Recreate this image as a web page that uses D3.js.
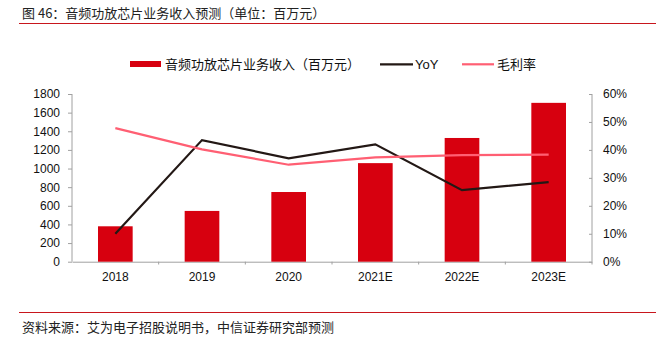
<!DOCTYPE html>
<html>
<head>
<meta charset="utf-8">
<script src="https://cdn.jsdelivr.net/npm/d3@7"></script>
<style>
  body { margin: 0; background: #fff; }
  svg { display: block; }
  text { font-family: "Liberation Sans", Arial, sans-serif; }
  .cn { font-family: "Noto Sans CJK SC", "Liberation Sans", sans-serif; }
</style>
</head>
<body>
<svg id="vis"></svg>
<script>
// chart values
const years = ["2018", "2019", "2020", "2021E", "2022E", "2023E"];
const revenue = [380, 545, 748, 1058, 1328, 1705];
const yoy = [0.10, 0.435, 0.37, 0.42, 0.256, 0.285];
const margin = [0.478, 0.402, 0.347, 0.373, 0.381, 0.383];
const leftTicks = [0, 200, 400, 600, 800, 1000, 1200, 1400, 1600, 1800];
const rightTicks = [0, 0.1, 0.2, 0.3, 0.4, 0.5, 0.6];

const titleText = "图 46：音频功放芯片业务收入预测（单位：百万元）";
const sourceText = "资料来源：艾为电子招股说明书，中信证券研究部预测";
const legendNames = ["音频功放芯片业务收入（百万元）", "YoY", "毛利率"];

function drawChart() {
  const width = 656, height = 346;
  const barColor = "#d7000f", yoyColor = "#231815", marginColor = "#ff5f73";

  const svg = d3.select("#vis")
    .attr("width", width)
    .attr("height", height);

  // title + rules
  svg.append("text").attr("class", "cn")
    .attr("x", 22).attr("y", 18)
    .style("font-size", "13px").style("fill", "#222")
    .text(titleText);
  svg.append("line")
    .attr("x1", 19).attr("x2", width).attr("y1", 23.5).attr("y2", 23.5)
    .style("stroke", "#c8161d").style("stroke-width", 1.2);

  svg.append("line")
    .attr("x1", 19).attr("x2", width).attr("y1", 312.5).attr("y2", 312.5)
    .style("stroke", "#c8161d").style("stroke-width", 1.2);
  svg.append("text").attr("class", "cn")
    .attr("x", 22).attr("y", 332)
    .style("font-size", "13px").style("fill", "#222")
    .text(sourceText);

  // scales
  const x = d3.scaleBand().domain(years).range([72, 592]);
  const yL = d3.scaleLinear().domain([0, 1800]).range([261.7, 94]);
  const yR = d3.scaleLinear().domain([0, 0.6]).range([261.7, 94]);

  // axes
  const axL = svg.append("g").attr("transform", "translate(72,0)")
    .call(d3.axisLeft(yL).tickValues(leftTicks).tickFormat(d3.format("d")).tickSize(4).tickPadding(8));
  const axR = svg.append("g").attr("transform", "translate(592,0)")
    .call(d3.axisRight(yR).tickValues(rightTicks).tickFormat(d3.format(".0%")).tickSize(-3).tickPadding(11));
  const axX = svg.append("g").attr("transform", "translate(0,261.7)")
    .call(d3.axisBottom(x).tickSize(0).tickPadding(11));

  [axL, axR, axX].forEach(g => {
    g.select(".domain").style("stroke", "#a0a0a0");
    g.selectAll(".tick line").style("stroke", "#a0a0a0");
    g.selectAll("text").style("font-size", "12px").style("fill", "#111")
      .style("font-family", "'Liberation Sans', Arial, sans-serif");
  });
  axL.select(".domain").attr("d", "M0,94V261.7");
  axR.select(".domain").attr("d", "M0,94V261.7");

  // x ticks at band boundaries
  svg.append("g").selectAll("line")
    .data(years)
    .join("line")
      .attr("x1", (d, i) => x(d) + x.bandwidth())
      .attr("x2", (d, i) => x(d) + x.bandwidth())
      .attr("y1", 261.7).attr("y2", 264.5)
      .style("stroke", "#a0a0a0");

  // bars
  const bw = x.bandwidth() * 0.4;
  svg.append("g").selectAll("rect")
    .data(revenue)
    .join("rect")
      .attr("x", (d, i) => x(years[i]) + x.bandwidth() / 2 - bw / 2)
      .attr("y", d => yL(d))
      .attr("width", bw)
      .attr("height", d => yL(0) - yL(d))
      .style("fill", barColor);

  const cx = (d, i) => x(years[i]) + x.bandwidth() / 2;

  svg.append("path")
    .datum(yoy)
    .attr("d", d3.line().x(cx).y(d => yR(d)))
    .style("fill", "none").style("stroke", yoyColor).style("stroke-width", 2.2);

  svg.append("path")
    .datum(margin)
    .attr("d", d3.line().x(cx).y(d => yR(d)))
    .style("fill", "none").style("stroke", marginColor).style("stroke-width", 2.2);

  // legend
  const lg = svg.append("g");
  lg.append("rect").attr("x", 130).attr("y", 61).attr("width", 31).attr("height", 6)
    .style("fill", barColor);
  lg.append("text").attr("class", "cn").attr("x", 165).attr("y", 69)
    .style("font-size", "13px").style("fill", "#111").text(legendNames[0]);

  lg.append("line").attr("x1", 380).attr("x2", 413).attr("y1", 64.3).attr("y2", 64.3)
    .style("stroke", yoyColor).style("stroke-width", 2.2);
  lg.append("text").attr("x", 415).attr("y", 69)
    .style("font-size", "13px").style("fill", "#111").text(legendNames[1]);

  lg.append("line").attr("x1", 462).attr("x2", 494).attr("y1", 64.3).attr("y2", 64.3)
    .style("stroke", marginColor).style("stroke-width", 2.2);
  lg.append("text").attr("class", "cn").attr("x", 497).attr("y", 69)
    .style("font-size", "13px").style("fill", "#111").text(legendNames[2]);
}
drawChart();
</script>
</body>
</html>
